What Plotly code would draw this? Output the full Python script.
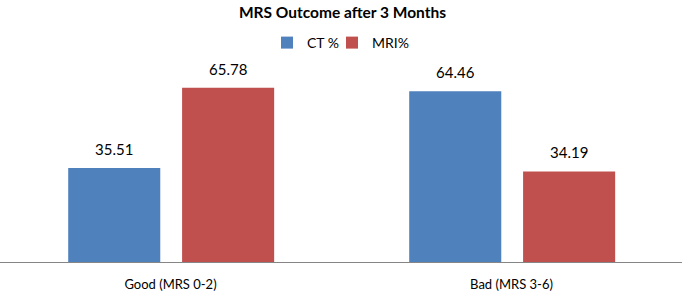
import plotly.graph_objects as go

categories = ["Good (MRS 0-2)", "Bad (MRS 3-6)"]
ct_values = [35.51, 64.46]
mri_values = [65.78, 34.19]
series_names = ["CT %", "MRI%"]
colors = ["#4F81BD", "#C0504D"]
offsets = [-0.3, 0.034]
bar_width = 0.27
legend_ids = ["legend", "legend2"]
cat_px = 682 / 2  # pixel width of one category slot

fig = go.Figure()
for name, vals, col, off, lg in zip(series_names, [ct_values, mri_values], colors, offsets, legend_ids):
    fig.add_trace(go.Bar(
        x=categories, y=vals, name=name, marker=dict(color=col, line=dict(width=0)),
        width=bar_width, offset=off, legend=lg, hoverinfo="skip",
    ))
    for c, v in zip(categories, vals):
        fig.add_annotation(
            x=c, y=v, xref="x", yref="y", text=f"{v:.2f}", showarrow=False,
            xanchor="center", yanchor="bottom", yshift=8,
            xshift=(off + bar_width / 2) * cat_px,
            font=dict(size=15, color="#000000"),
        )

leg_common = dict(orientation="h", y=1.033, yanchor="middle", font=dict(size=14),
                  bgcolor="rgba(0,0,0,0)")
fig.update_layout(
    width=685, height=291,
    margin=dict(l=0, r=3, t=50, b=29, autoexpand=False),
    paper_bgcolor="white", plot_bgcolor="white",
    font=dict(family="Lato, Open Sans, sans-serif", color="#000000"),
    title=dict(text="<b>MRS Outcome after 3 Months</b>", x=0.5, xanchor="center",
               y=1 - 13/291, yanchor="middle", font=dict(size=15.5)),
    barmode="overlay",
    showlegend=True,
    legend=dict(x=0.3915, xanchor="left", **leg_common),
    legend2=dict(x=0.4868, xanchor="left", **leg_common),
    xaxis=dict(showline=True, linecolor="#868686", linewidth=1, ticks="",
               tickfont=dict(size=13), ticklabelstandoff=10,
               showgrid=False, automargin=False),
    yaxis=dict(range=[0, 80], visible=False, showgrid=False, automargin=False),
)

fig.write_html("out.html", config={"displayModeBar": False},
               post_script="document.body.style.margin='0';document.body.style.padding='0';")
